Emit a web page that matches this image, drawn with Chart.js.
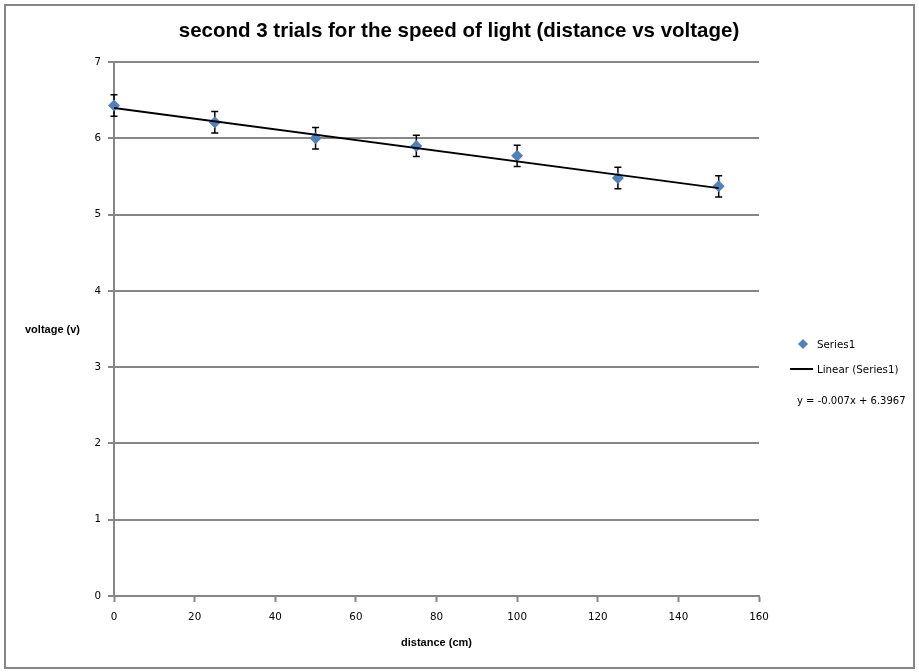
<!DOCTYPE html>
<html>
<head>
<meta charset="utf-8">
<script src="https://cdn.jsdelivr.net/npm/chart.js@4"></script>
<style>
  html, body { margin: 0; padding: 0; background: #fff; }
  #wrap { width: 919px; height: 672px; }
</style>
</head>
<body>
<div id="wrap"><canvas id="lineChart" width="919" height="672"></canvas></div>
<script>
// values
const distance = [0, 25, 50, 75, 100, 125, 150];
const voltage = [6.43, 6.21, 6.00, 5.90, 5.77, 5.48, 5.37];
const voltErr = [0.14, 0.14, 0.14, 0.14, 0.14, 0.14, 0.14];
const trendSlope = -0.007;
const trendIntercept = 6.3967;
const xTicks = [0, 20, 40, 60, 80, 100, 120, 140, 160];
const yTicks = [0, 1, 2, 3, 4, 5, 6, 7];
const titre = 'second 3 trials for the speed of light (distance vs voltage)';

const gris = '#868686';
const bleu = '#4F81BD';

let points = [];
for (let i = 0; i < distance.length; i++) {
    points[i] = { x: distance[i], y: voltage[i] };
}
let trend = [
    { x: distance[0], y: trendSlope * distance[0] + trendIntercept },
    { x: distance[distance.length - 1], y: trendSlope * distance[distance.length - 1] + trendIntercept }
];

const errorBars = {
    id: 'errorBars',
    beforeDatasetsDraw(chart) {
        const c = chart.ctx;
        const xs = chart.scales.x, ys = chart.scales.y;
        c.save();
        c.strokeStyle = '#000';
        c.lineWidth = 1.5;
        for (let i = 0; i < distance.length; i++) {
            const px = xs.getPixelForValue(distance[i]);
            const top = ys.getPixelForValue(voltage[i] + voltErr[i]);
            const bot = ys.getPixelForValue(voltage[i] - voltErr[i]);
            c.beginPath();
            c.moveTo(px, top); c.lineTo(px, bot);
            c.moveTo(px - 3.5, top); c.lineTo(px + 3.5, top);
            c.moveTo(px - 3.5, bot); c.lineTo(px + 3.5, bot);
            c.stroke();
        }
        c.restore();
    }
};

const decor = {
    id: 'decor',
    beforeDraw(chart) {
        const c = chart.ctx;
        c.save();
        c.fillStyle = '#fff';
        c.fillRect(0, 0, chart.width, chart.height);
        c.strokeStyle = gris;
        c.lineWidth = 2;
        c.strokeRect(5, 5, 909, 663);
        c.restore();
    },
    afterDraw(chart) {
        const c = chart.ctx;
        c.save();
        // title, centred on the whole frame
        c.fillStyle = '#000';
        c.font = 'bold 20.5px "Liberation Sans"';
        c.textAlign = 'center';
        c.textBaseline = 'middle';
        c.fillText(titre, 459, 31);
        // y axis title, horizontal
        c.font = 'bold 11px "Liberation Sans"';
        c.textAlign = 'left';
        c.fillText('voltage (v)', 25, 330);
        // legend
        c.font = '10.3px "DejaVu Sans"';
        c.fillStyle = bleu;
        c.beginPath();
        c.moveTo(803, 339); c.lineTo(808, 344); c.lineTo(803, 349); c.lineTo(798, 344);
        c.closePath();
        c.fill();
        c.fillStyle = '#000';
        c.fillText('Series1', 817, 345);
        c.strokeStyle = '#000';
        c.lineWidth = 2;
        c.beginPath();
        c.moveTo(790, 369); c.lineTo(813, 369);
        c.stroke();
        c.fillText('Linear (Series1)', 817, 370);
        c.font = '10px "DejaVu Sans"';
        c.fillText('y = ' + trendSlope + 'x + ' + trendIntercept, 797, 401);
        c.restore();
    }
};

new Chart(document.getElementById('lineChart'), {
    type: 'scatter',
    data: {
        datasets: [{
            label: 'Series1',
            data: points,
            pointStyle: 'rectRot',
            pointRadius: 6,
            backgroundColor: bleu,
            borderColor: bleu,
            borderWidth: 0,
            clip: false,
            order: 2
        },
        {
            label: 'Linear (Series1)',
            type: 'line',
            data: trend,
            borderColor: '#000',
            borderWidth: 2,
            pointRadius: 0,
            fill: false,
            order: 1
        }]
    },
    plugins: [decor, errorBars],
    options: {
        responsive: false,
        animation: false,
        layout: { padding: { left: 0, right: 160, top: 62, bottom: 0 } },
        plugins: {
            legend: { display: false },
            tooltip: { enabled: false },
            title: { display: false }
        },
        scales: {
            x: {
                type: 'linear',
                min: 0,
                max: 160,
                afterFit: (s) => { s.height = 76; },
                afterBuildTicks: (s) => { s.ticks = xTicks.map(v => ({ value: v })); },
                ticks: { color: '#000', font: { family: '"DejaVu Sans"', size: 10.3 }, padding: 9, maxRotation: 0 },
                grid: { drawOnChartArea: false, drawTicks: true, tickLength: 6, tickWidth: 2, color: gris },
                border: { color: gris, width: 2 },
                title: {
                    display: true,
                    text: 'distance (cm)',
                    color: '#000',
                    font: { family: '"Liberation Sans"', size: 11, weight: 'bold' },
                    padding: { top: 0, bottom: 22 }
                }
            },
            y: {
                type: 'linear',
                min: 0,
                max: 7,
                afterFit: (s) => { s.width = 114; },
                afterBuildTicks: (s) => { s.ticks = yTicks.map(v => ({ value: v })); },
                ticks: { color: '#000', font: { family: '"DejaVu Sans"', size: 10.3 }, padding: 7 },
                grid: { drawOnChartArea: true, drawTicks: true, tickLength: 6, lineWidth: 2, color: gris },
                border: { color: gris, width: 2 }
            }
        }
    }
});
</script>
</body>
</html>
